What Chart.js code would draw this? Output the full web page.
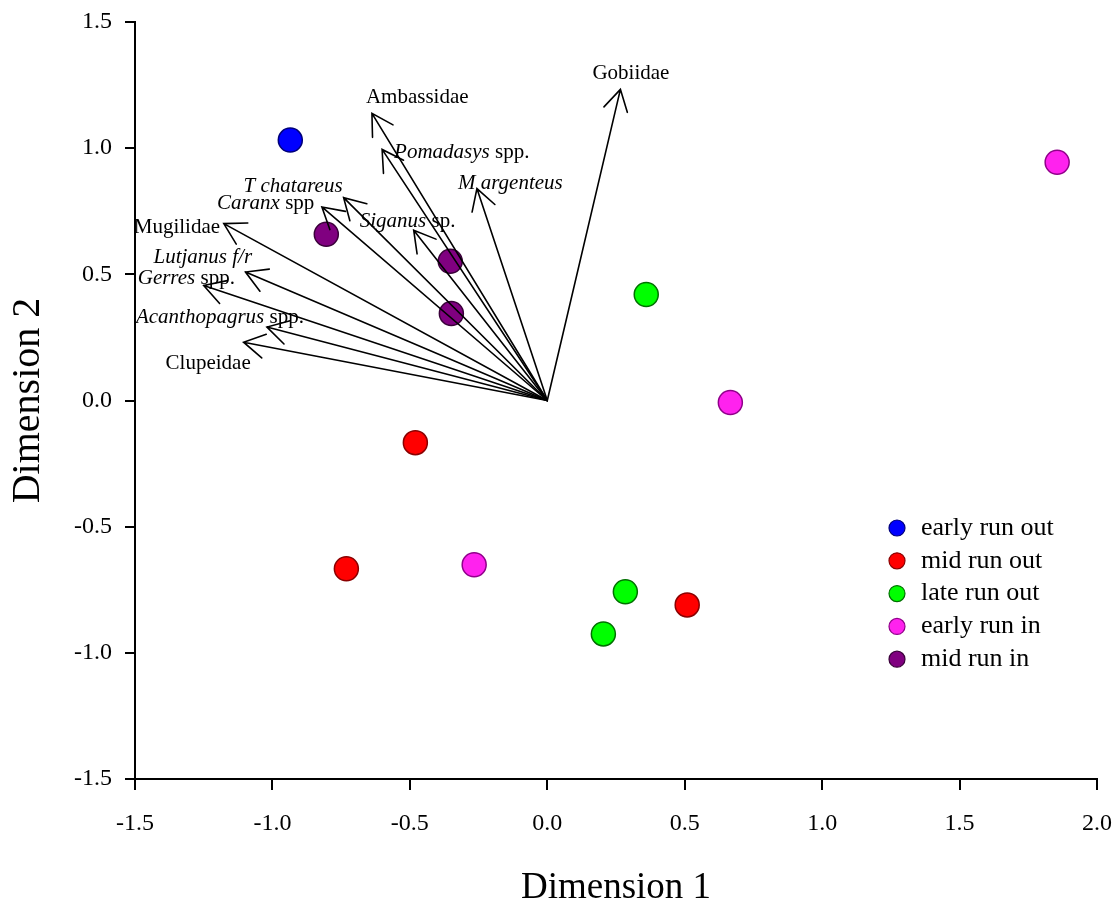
<!DOCTYPE html>
<html>
<head>
<meta charset="utf-8">
<title>Dimension 1 vs Dimension 2</title>
<script src="https://cdn.jsdelivr.net/npm/chart.js@4.4.1/dist/chart.umd.min.js"></script>
<style>
  html, body { margin: 0; padding: 0; background: #fff; }
  canvas { display: block; }
</style>
</head>
<body>
<canvas id="chart" width="1115" height="907"></canvas>
<script>
// Sample scores (Dimension 1 / Dimension 2) by group
const groupNames = ['early run out', 'mid run out', 'late run out', 'early run in', 'mid run in'];

const earlyOutX = [-0.935];
const earlyOutY = [1.032];
const midOutX = [-0.480, -0.731, 0.509];
const midOutY = [-0.167, -0.667, -0.810];
const lateOutX = [0.360, 0.284, 0.204];
const lateOutY = [0.420, -0.758, -0.925];
const earlyInX = [1.855, 0.666, -0.266];
const earlyInY = [0.944, -0.008, -0.651];
const midInX = [-0.804, -0.353, -0.349];
const midInY = [0.659, 0.552, 0.345];

// Species vectors (arrow tips, origin at 0,0)
const speciesLabels = [
  [['Ambassidae', false]],
  [['Pomadasys', true], [' spp.', false]],
  [['M argenteus', true]],
  [['Gobiidae', false]],
  [['T chatareus', true]],
  [['Caranx', true], [' spp', false]],
  [['Siganus', true], [' sp.', false]],
  [['Mugilidae', false]],
  [['Lutjanus f/r', true]],
  [['Gerres', true], [' spp.', false]],
  [['Acanthopagrus', true], [' spp.', false]],
  [['Clupeidae', false]]
];
const vectorX = [-0.638, -0.601, -0.256, 0.266, -0.741, -0.820, -0.486, -1.177, -1.098, -1.250, -1.020, -1.105];
const vectorY = [1.138, 0.995, 0.840, 1.233, 0.804, 0.767, 0.675, 0.701, 0.509, 0.456, 0.291, 0.231];

const xTicks = [-1.5, -1.0, -0.5, 0.0, 0.5, 1.0, 1.5, 2.0];
const yTicks = [-1.5, -1.0, -0.5, 0.0, 0.5, 1.0, 1.5];

// styling
const fillColors = ['#0000ff', '#ff0000', '#00ff00', '#ff22ee', '#800080'];
const edgeColors = ['#00007a', '#8a0000', '#007000', '#90008a', '#3a003a'];
// label placement relative to arrow tip, in pixels (left edge, vertical middle)
const labelOffsets = [
  [-6, -16], [12, 3], [-19, -5], [-28, -16], [-100, -11], [-105, -3],
  [-54, -9], [-90, 4], [-92, -15], [-66, -7], [-131, -10], [-78, 21]
];
const serif = "'Liberation Serif', 'Times New Roman', serif";

function toPoints(xs, ys) {
  return xs.map((x, i) => ({ x: x, y: ys[i] }));
}

const groups = [
  toPoints(earlyOutX, earlyOutY),
  toPoints(midOutX, midOutY),
  toPoints(lateOutX, lateOutY),
  toPoints(earlyInX, earlyInY),
  toPoints(midInX, midInY)
];

// arrows, species labels and the legend box
const overlayPlugin = {
  id: 'overlay',
  afterDatasetsDraw(chart) {
    const ctx = chart.ctx;
    const xs = chart.scales.x;
    const ys = chart.scales.y;
    const ox = xs.getPixelForValue(0);
    const oy = ys.getPixelForValue(0);

    ctx.save();
    ctx.strokeStyle = '#000';
    ctx.lineWidth = 1.6;
    ctx.lineCap = 'round';
    vectorX.forEach((vx, i) => {
      const tx = xs.getPixelForValue(vx);
      const ty = ys.getPixelForValue(vectorY[i]);
      const ang = Math.atan2(oy - ty, ox - tx);
      const len = 24, spread = Math.PI / 6;
      ctx.beginPath();
      ctx.moveTo(ox, oy);
      ctx.lineTo(tx, ty);
      ctx.moveTo(tx + len * Math.cos(ang - spread), ty + len * Math.sin(ang - spread));
      ctx.lineTo(tx, ty);
      ctx.lineTo(tx + len * Math.cos(ang + spread), ty + len * Math.sin(ang + spread));
      ctx.stroke();

      // label
      let lx = tx + labelOffsets[i][0];
      const ly = ty + labelOffsets[i][1];
      ctx.fillStyle = '#000';
      ctx.textBaseline = 'middle';
      ctx.textAlign = 'left';
      speciesLabels[i].forEach(([txt, italic]) => {
        ctx.font = (italic ? 'italic ' : '') + '21px ' + serif;
        ctx.fillText(txt, lx, ly);
        lx += ctx.measureText(txt).width;
      });
    });

    // legend
    const area = chart.chartArea;
    const legX = area.left + 762;
    const legY = area.top + 506;
    chart.data.datasets.forEach((ds, i) => {
      const y = legY + i * 32.8;
      ctx.beginPath();
      ctx.arc(legX, y, 8, 0, Math.PI * 2);
      ctx.fillStyle = ds.backgroundColor;
      ctx.fill();
      ctx.lineWidth = 1.2;
      ctx.strokeStyle = ds.borderColor;
      ctx.stroke();
      ctx.fillStyle = '#000';
      ctx.font = '26px ' + serif;
      ctx.textBaseline = 'middle';
      ctx.fillText(ds.label, legX + 24, y);
    });
    ctx.restore();
  }
};

const ctx = document.getElementById('chart').getContext('2d');

new Chart(ctx, {
  type: 'scatter',
  data: {
    datasets: groups.map((pts, i) => ({
      label: groupNames[i],
      data: pts,
      backgroundColor: fillColors[i],
      borderColor: edgeColors[i],
      borderWidth: 1.5,
      pointRadius: 12,
      pointHoverRadius: 12
    }))
  },
  options: {
    responsive: false,
    animation: false,
    devicePixelRatio: 1,
    events: [],
    layout: { padding: { top: 22, right: 18, left: 0, bottom: 0 } },
    plugins: {
      legend: { display: false },
      tooltip: { enabled: false }
    },
    scales: {
      x: {
        type: 'linear',
        min: -1.5,
        max: 2.0,
        afterFit(scale) {
          scale.height = 128;
          scale.paddingLeft = 0;
          scale.paddingRight = 0;
        },
        afterBuildTicks(scale) { scale.ticks = xTicks.map(v => ({ value: v })); },
        border: { color: '#000', width: 2 },
        grid: { drawOnChartArea: false, drawTicks: true, tickLength: 11, color: '#000', lineWidth: 2 },
        ticks: {
          color: '#000',
          padding: 19,
          font: { family: serif, size: 24 },
          callback: v => Number(v).toFixed(1)
        },
        title: {
          display: true,
          text: 'Dimension 1',
          color: '#000',
          padding: { top: 0, bottom: 0 },
          font: { family: serif, size: 37, lineHeight: 1 }
        }
      },
      y: {
        type: 'linear',
        min: -1.5,
        max: 1.5,
        afterFit(scale) {
          scale.width = 135;
          scale.paddingTop = 0;
          scale.paddingBottom = 0;
        },
        afterBuildTicks(scale) { scale.ticks = yTicks.map(v => ({ value: v })); },
        border: { color: '#000', width: 2 },
        grid: { drawOnChartArea: false, drawTicks: true, tickLength: 10, color: '#000', lineWidth: 2 },
        ticks: {
          color: '#000',
          padding: 13,
          font: { family: serif, size: 24 },
          callback: v => Number(v).toFixed(1)
        },
        title: {
          display: true,
          text: 'Dimension 2',
          color: '#000',
          padding: { top: 8, bottom: 0 },
          font: { family: serif, size: 40, lineHeight: 1 }
        }
      }
    }
  },
  plugins: [overlayPlugin]
});
</script>
</body>
</html>
